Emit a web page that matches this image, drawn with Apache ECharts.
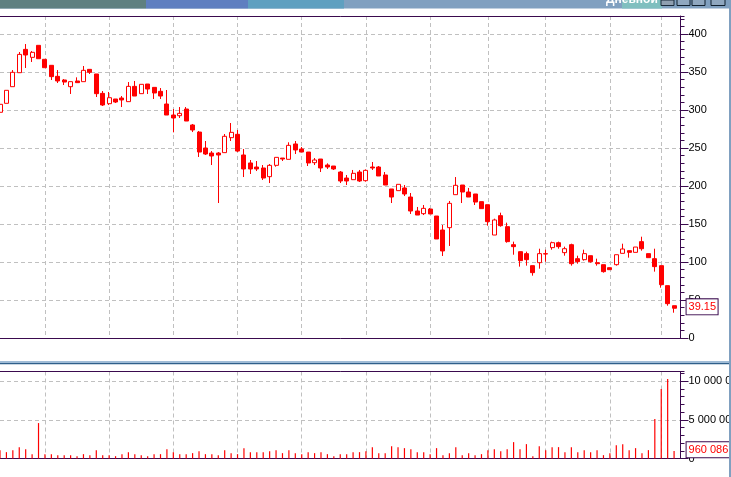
<!DOCTYPE html>
<html>
<head>
<meta charset="utf-8">
<style>html,body{margin:0;padding:0;background:#fff;overflow:hidden}#c{width:731px;height:477px}</style>
<script src="https://cdn.jsdelivr.net/npm/echarts@6/dist/echarts.min.js"></script>
</head>
<body>
<div id="c"></div>
<script>
// Candle values, index 0..105
const opens = [297,308.8,330.7,349.1,379.8,369.3,385.1,366.7,358.8,344.3,339.5,330.7,338.2,337.3,353.5,347.4,321.9,308.3,314.5,315.8,311,331.1,321.5,334.2,329.8,324.6,307.9,293.4,292.5,301.3,280.3,271,250,243.4,243.4,243.9,263.6,268,
240.8,230.3,225,223.7,212.3,227.2,236.8,235.1,255.3,248.7,244.7,230.7,235.5,227.6,226.3,218.4,210.5,208.3,218.4,207,225,225,214.5,196.1,193.9,197.4,185.5,167.1,163.6,169.7,160.5,142.1,145.2,188.6,201.3,192.1,189.5,
179.4,175.4,135.5,161,146.5,122.8,113.6,111,95.2,99.1,110.5,118.9,125.4,112.3,122.8,104.4,103.1,108.3,99.1,96.5,92.5,96.5,111.4,114.9,112.7,126.8,111,104.4,95.2,68.9,42.5];
const closes = [307.5,325.9,349.6,373.2,372.4,375.9,367.5,355.7,343.9,338.2,336.8,337.3,336,352.2,349.6,321.5,306.6,316.2,310.5,313.2,331.1,318.4,333.8,327.6,322.4,318.4,293.4,289.5,295.6,285.5,273.7,244.7,242.1,239.5,240.8,265.4,270.6,246,
222.4,222.4,222.4,210.5,227.2,237.7,235.5,253.5,247.4,244.7,230.3,234.2,223.7,225,222.4,206.6,206.6,216.7,206.6,220.6,223.7,213.2,201.3,185.5,202.2,189.5,167.1,161.8,170.6,163.2,130.3,114.5,177.2,200.9,192.1,185.5,178.9,
170.2,153.1,155.3,147.8,126.8,120.2,101.8,103.1,86,111,111,125.4,120.2,117.5,97.8,100.4,111,100.4,97.8,87.3,89.9,109.6,117.1,112.7,119.7,117.5,105.7,93.9,70.2,45.2,39.15];
const lows = [297,308.8,330.7,349.1,355.3,363.2,367.5,355.7,339.5,335.5,332.9,321.1,336,337.3,347.4,317.1,305.3,306.6,309.2,303.9,311,318.4,321.5,321.1,314.5,314.5,293.4,270.6,289.5,285.5,271,238.2,240.8,227.6,177.6,243.9,259.2,244.7,
211.8,215.8,219.7,207.9,203.9,225.4,232.9,235.1,242.1,244.7,226.3,227.6,218.4,222.4,221.1,203.9,201.3,207.9,205.3,205.7,221.1,213.2,201.3,177.6,193.9,186.8,163.2,161.8,161.8,163.2,130.3,107.9,121.1,188.6,177.6,185.5,175,
170.2,147.8,135.5,146.5,125.4,109.6,93.9,95.2,82,91.2,100.4,116.2,117.5,108.3,95.2,97.8,101.8,99.1,95.2,86,89.9,95.2,111.4,105.7,112.7,114.9,105.7,87.3,66.2,42.5,33.3];
const highs = [307.5,325.9,352.6,376.3,386.8,377.6,385.1,366.7,358.8,352.6,340.8,337.3,343,357.9,353.5,347.4,325,323.7,314.5,318.4,336.8,338.2,333.8,334.2,329.8,328.9,326.3,301.3,303.9,303.9,281.6,272.4,259.2,246,244.7,268.4,282.9,273.7,
248.7,234.2,232.9,227.6,228.9,237.7,236.8,257.5,259.2,251.3,244.7,236.8,235.5,229.8,226.3,219.7,214.5,221.1,221.1,221.9,231.6,226.3,218.4,196.1,202.2,201.3,190.8,172.4,175,171.1,160.5,148.7,180.3,211.8,201.3,197.4,189.5,
179.4,175.4,157,164.9,151.8,126.8,113.6,113.6,95.2,117.5,116.2,126.8,126.8,120.2,124.1,108.3,116.2,108.3,104.4,96.5,92.5,109.6,124.1,114.9,119.7,133.3,111,117.5,95.2,68.9,42.5];
const volumes = [1083000,823000,1083000,1472000,1212000,563000,4590000,563000,563000,433000,433000,433000,303000,563000,433000,1083000,433000,433000,303000,563000,823000,563000,433000,303000,563000,563000,1212000,823000,563000,563000,693000,953000,563000,563000,433000,1083000,693000,563000,1342000,823000,823000,823000,953000,1083000,693000,1083000,693000,563000,823000,693000,823000,563000,303000,563000,563000,823000,823000,
953000,1472000,693000,693000,1602000,1472000,1342000,1212000,823000,823000,563000,1342000,433000,693000,1472000,433000,693000,433000,563000,1083000,1212000,953000,1212000,2122000,1212000,1862000,303000,1602000,1083000,1472000,1472000,823000,1472000,823000,1083000,823000,1083000,433000,693000,1732000,1862000,1083000,1342000,693000,1083000,5109000,9006000,10305000,960086];
const categories = opens.map((_, i) => String(i)).concat(['']);
const gridIndices = [7,17,27,37,47,57,67,76,85,95,103];
const priceTicks = [0,50,100,150,200,250,300,350,400];
const volumeTicks = [0,5000000,10000000];
const titleText = 'Дневной';

const purple = '#3a0a4e', grey = '#c0c0c0', red = '#ff0000';
const candleData = opens.map((o, i) => [o, closes[i], lows[i], highs[i]]);
const fmtVol = v => String(Math.round(v)).replace(/\B(?=(\d{3})+$)/g, ' ');
const lastIdx = opens.length - 1;

function xAx(gridIndex, position, withGrid) {
  return {
    type: 'category', gridIndex, position, data: categories, boundaryGap: false, containShape: false,
    axisLine: {show: true, onZero: false, lineStyle: {color: purple, width: 1}},
    axisTick: {show: false}, axisLabel: {show: false},
    splitLine: withGrid ? {show: true, interval: i => gridIndices.includes(i),
      lineStyle: {color: grey, type: [4, 3], width: 1}} : {show: false}
  };
}
function yMajor(gridIndex, min, max, ticks, fmt) {
  return {
    type: 'value', gridIndex, position: 'right', min, max, scale: true,
    axisLine: {show: true, onZero: false, lineStyle: {color: purple, width: 1}},
    axisTick: {show: true, inside: false, length: 8, customValues: ticks, lineStyle: {color: purple}},
    axisLabel: {show: true, inside: false, margin: 8, customValues: ticks, color: '#000',
      fontFamily: 'Liberation Sans', fontSize: 11, hideOverlap: false, formatter: fmt},
    splitLine: {show: true, lineStyle: {color: grey, type: [4, 3], width: 1}}
  };
}
function yMinor(gridIndex, min, max, interval) {
  return {
    type: 'value', gridIndex, position: 'right', min, max, interval,
    axisLine: {show: false}, axisLabel: {show: false}, splitLine: {show: false},
    axisTick: {show: true, length: 4, lineStyle: {color: purple}}
  };
}
function boxLabel(w, offY, text) {
  return {
    show: true, position: 'right', distance: 12.5, offset: [0, offY], formatter: text,
    color: red, backgroundColor: '#fff', borderColor: purple, borderWidth: 1,
    width: w, height: 15, lineHeight: 15, padding: [0, 0, 0, 2],
    fontFamily: 'Liberation Sans', fontSize: 11
  };
}

const chart = echarts.init(document.getElementById('c'), null, {renderer: 'canvas'});
chart.setOption({
  animation: false,
  backgroundColor: '#fff',
  grid: [
    {left: 0, top: 16, width: 680.5, height: 322, show: false, outerBoundsMode: 'none', containLabel: false},
    {left: 0, top: 371.5, width: 680.5, height: 87, show: false, outerBoundsMode: 'none', containLabel: false}
  ],
  xAxis: [xAx(0, 'bottom', true), xAx(0, 'top', false), xAx(1, 'bottom', true), xAx(1, 'top', false)],
  yAxis: [
    yMajor(0, 0, 423.7, priceTicks, v => String(v)),
    yMinor(0, 0, 423.7, 10),
    yMajor(1, 0, 11270000, volumeTicks, fmtVol),
    yMinor(1, 0, 11270000, 1000000)
  ],
  series: [
    {
      type: 'candlestick', xAxisIndex: 0, yAxisIndex: 0, data: candleData, barWidth: 4.5,
      itemStyle: {color: '#fff', color0: red, borderColor: red, borderColor0: red, borderWidth: 1},
      markPoint: {
        silent: true, symbol: 'rect', symbolSize: 0, animation: false,
        data: [{coord: [lastIdx, closes[lastIdx]], label: boxLabel(29, -1.4, closes[lastIdx].toFixed(2))}]
      }
    },
    {
      type: 'bar', xAxisIndex: 2, yAxisIndex: 2, data: volumes, barWidth: 1.2,
      itemStyle: {color: red},
      markPoint: {
        silent: true, symbol: 'rect', symbolSize: 0, animation: false,
        data: [{coord: [lastIdx, volumes[lastIdx]], label: boxLabel(43, -1.4, fmtVol(volumes[lastIdx]))}]
      }
    }
  ],
  graphic: [
    {type: 'rect', z: 100, shape: {x: 0, y: 0, width: 731, height: 8.5}, style: {fill: '#80a0c0'}},
    {type: 'rect', z: 101, shape: {x: 0, y: 0, width: 146, height: 8.5}, style: {fill: '#5f8080'}},
    {type: 'rect', z: 101, shape: {x: 146, y: 0, width: 102, height: 8.5}, style: {fill: '#5f7fc0'}},
    {type: 'rect', z: 101, shape: {x: 248, y: 0, width: 96, height: 8.5}, style: {fill: '#5fa0c0'}},
    {type: 'rect', z: 101, shape: {x: 622, y: 0, width: 40, height: 8.5}, style: {fill: '#7fbfbf'}},
    {type: 'text', z: 102, x: 606, y: -6, style: {text: titleText, fill: '#fff', font: 'bold 12px "Liberation Sans"'}},
    {type: 'rect', z: 102, shape: {x: 661, y: 0, width: 13, height: 5.5}, style: {fill: '#8f9fb0', stroke: '#1a2a3a', lineWidth: 1}},
    {type: 'rect', z: 102, shape: {x: 677, y: -2, width: 13, height: 7.5}, style: {fill: '#8fa7bf', stroke: '#10202f', lineWidth: 1}},
    {type: 'rect', z: 102, shape: {x: 692, y: -2, width: 13, height: 7.5}, style: {fill: '#8fa7bf', stroke: '#10202f', lineWidth: 1}},
    {type: 'rect', z: 102, shape: {x: 711, y: -2, width: 14, height: 7.5}, style: {fill: '#8fa7bf', stroke: '#10202f', lineWidth: 1}},
    {type: 'rect', z: 100, shape: {x: 0, y: 361, width: 731, height: 2}, style: {fill: '#a0bcd6'}},
    {type: 'rect', z: 100, shape: {x: 0, y: 363, width: 731, height: 1.3}, style: {fill: '#2f5f8a'}},
    {type: 'rect', z: 103, shape: {x: 729, y: 0, width: 2, height: 477}, style: {fill: '#80a0c0'}}
  ]
});
</script>
</body>
</html>
